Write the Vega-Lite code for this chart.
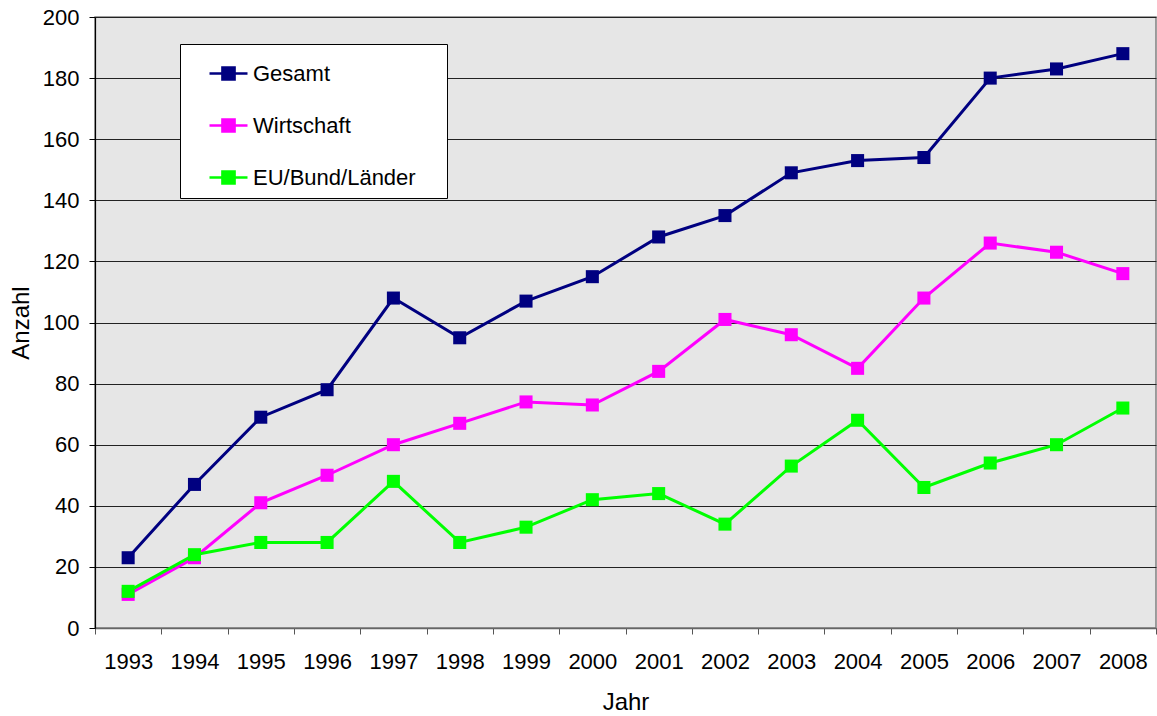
{
  "$schema": "https://vega.github.io/schema/vega-lite/v6.json",
  "width": 1061,
  "height": 611,
  "autosize": {"type": "none"},
  "padding": {"left": 95, "top": 17, "right": 1, "bottom": 88},
  "background": "white",
  "config": {
    "font": "Liberation Sans",
    "view": {"fill": "#e6e6e6", "stroke": "#808080", "strokeWidth": 1.5}
  },
  "data": {
    "values": [
      {"Jahr": "1993", "Serie": "Gesamt", "Anzahl": 23},
      {"Jahr": "1994", "Serie": "Gesamt", "Anzahl": 47},
      {"Jahr": "1995", "Serie": "Gesamt", "Anzahl": 69},
      {"Jahr": "1996", "Serie": "Gesamt", "Anzahl": 78},
      {"Jahr": "1997", "Serie": "Gesamt", "Anzahl": 108},
      {"Jahr": "1998", "Serie": "Gesamt", "Anzahl": 95},
      {"Jahr": "1999", "Serie": "Gesamt", "Anzahl": 107},
      {"Jahr": "2000", "Serie": "Gesamt", "Anzahl": 115},
      {"Jahr": "2001", "Serie": "Gesamt", "Anzahl": 128},
      {"Jahr": "2002", "Serie": "Gesamt", "Anzahl": 135},
      {"Jahr": "2003", "Serie": "Gesamt", "Anzahl": 149},
      {"Jahr": "2004", "Serie": "Gesamt", "Anzahl": 153},
      {"Jahr": "2005", "Serie": "Gesamt", "Anzahl": 154},
      {"Jahr": "2006", "Serie": "Gesamt", "Anzahl": 180},
      {"Jahr": "2007", "Serie": "Gesamt", "Anzahl": 183},
      {"Jahr": "2008", "Serie": "Gesamt", "Anzahl": 188},
      {"Jahr": "1993", "Serie": "Wirtschaft", "Anzahl": 11},
      {"Jahr": "1994", "Serie": "Wirtschaft", "Anzahl": 23},
      {"Jahr": "1995", "Serie": "Wirtschaft", "Anzahl": 41},
      {"Jahr": "1996", "Serie": "Wirtschaft", "Anzahl": 50},
      {"Jahr": "1997", "Serie": "Wirtschaft", "Anzahl": 60},
      {"Jahr": "1998", "Serie": "Wirtschaft", "Anzahl": 67},
      {"Jahr": "1999", "Serie": "Wirtschaft", "Anzahl": 74},
      {"Jahr": "2000", "Serie": "Wirtschaft", "Anzahl": 73},
      {"Jahr": "2001", "Serie": "Wirtschaft", "Anzahl": 84},
      {"Jahr": "2002", "Serie": "Wirtschaft", "Anzahl": 101},
      {"Jahr": "2003", "Serie": "Wirtschaft", "Anzahl": 96},
      {"Jahr": "2004", "Serie": "Wirtschaft", "Anzahl": 85},
      {"Jahr": "2005", "Serie": "Wirtschaft", "Anzahl": 108},
      {"Jahr": "2006", "Serie": "Wirtschaft", "Anzahl": 126},
      {"Jahr": "2007", "Serie": "Wirtschaft", "Anzahl": 123},
      {"Jahr": "2008", "Serie": "Wirtschaft", "Anzahl": 116},
      {"Jahr": "1993", "Serie": "EU/Bund/Länder", "Anzahl": 12},
      {"Jahr": "1994", "Serie": "EU/Bund/Länder", "Anzahl": 24},
      {"Jahr": "1995", "Serie": "EU/Bund/Länder", "Anzahl": 28},
      {"Jahr": "1996", "Serie": "EU/Bund/Länder", "Anzahl": 28},
      {"Jahr": "1997", "Serie": "EU/Bund/Länder", "Anzahl": 48},
      {"Jahr": "1998", "Serie": "EU/Bund/Länder", "Anzahl": 28},
      {"Jahr": "1999", "Serie": "EU/Bund/Länder", "Anzahl": 33},
      {"Jahr": "2000", "Serie": "EU/Bund/Länder", "Anzahl": 42},
      {"Jahr": "2001", "Serie": "EU/Bund/Länder", "Anzahl": 44},
      {"Jahr": "2002", "Serie": "EU/Bund/Länder", "Anzahl": 34},
      {"Jahr": "2003", "Serie": "EU/Bund/Länder", "Anzahl": 53},
      {"Jahr": "2004", "Serie": "EU/Bund/Länder", "Anzahl": 68},
      {"Jahr": "2005", "Serie": "EU/Bund/Länder", "Anzahl": 46},
      {"Jahr": "2006", "Serie": "EU/Bund/Länder", "Anzahl": 54},
      {"Jahr": "2007", "Serie": "EU/Bund/Länder", "Anzahl": 60},
      {"Jahr": "2008", "Serie": "EU/Bund/Länder", "Anzahl": 72}
    ]
  },
  "encoding": {
    "x": {
      "field": "Jahr",
      "type": "ordinal",
      "scale": {"type": "band", "paddingInner": 0, "paddingOuter": 0},
      "axis": {
        "title": "Jahr",
        "titleFontSize": 24,
        "titleFontWeight": "normal",
        "titleColor": "black",
        "titlePadding": 18,
        "labelAngle": 0,
        "labelFontSize": 22,
        "labelColor": "black",
        "labelPadding": 17,
        "tickBand": "extent",
        "tickSize": 6,
        "tickColor": "#555555",
        "domainColor": "#666666",
        "domainWidth": 1.5,
        "grid": false
      }
    },
    "y": {
      "field": "Anzahl",
      "type": "quantitative",
      "scale": {"domain": [0, 200], "nice": false},
      "axis": {
        "title": "Anzahl",
        "titleFontSize": 24,
        "titleFontWeight": "normal",
        "titleColor": "black",
        "titlePadding": 9,
        "values": [0, 20, 40, 60, 80, 100, 120, 140, 160, 180, 200],
        "labelFontSize": 22,
        "labelColor": "black",
        "labelPadding": 10,
        "tickSize": 6,
        "tickColor": "black",
        "domainColor": "black",
        "domainWidth": 1.2,
        "grid": true,
        "gridColor": "#222222",
        "gridWidth": 1.2
      }
    },
    "color": {
      "field": "Serie",
      "type": "nominal",
      "scale": {
        "domain": ["Gesamt", "Wirtschaft", "EU/Bund/Länder"],
        "range": ["#000080", "#ff00ff", "#00ff00"]
      },
      "legend": {
        "title": null,
        "orient": "none",
        "legendX": 85,
        "legendY": 27,
        "direction": "vertical",
        "fillColor": "white",
        "strokeColor": "black",
        "padding": 9,
        "symbolOffset": 19,
        "symbolType": "M-1,0H1M-0.32,-0.32H0.32V0.32H-0.32Z",
        "symbolSize": 1444,
        "symbolStrokeWidth": 2.5,
        "symbolFillColor": null,
        "labelFontSize": 22,
        "labelColor": "black",
        "labelOffset": 4,
        "labelLimit": 400,
        "rowPadding": 20,
        "labelExpr": "datum.label + '\u00a0\u2800'"
      }
    }
  },
  "layer": [
    {"mark": {"type": "line", "strokeWidth": 3}},
    {"mark": {"type": "point", "shape": "square", "filled": true, "opacity": 1, "size": 170}}
  ]
}
